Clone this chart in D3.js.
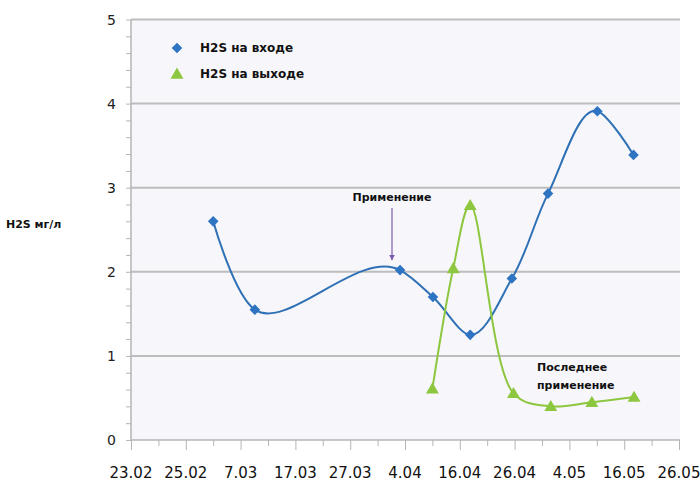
<!DOCTYPE html>
<html><head><meta charset="utf-8">
<script src="https://cdn.jsdelivr.net/npm/d3@7"></script>
<style>body{margin:0;background:#fff}svg{display:block}</style>
</head><body>
<svg id="c" width="700" height="495"></svg>
<script>
const xTickLabels = ["23.02","25.02","7.03","17.03","27.03","4.04","16.04","26.04","4.05","16.05","26.05"];
const yTicks = [0,1,2,3,4,5];
const inX = [1.50,2.26,4.91,5.51,6.19,6.95,7.61,8.51,9.17];
const inY = [2.60,1.55,2.02,1.70,1.25,1.92,2.93,3.91,3.39];
const outX = [5.50,5.88,6.19,6.98,7.66,8.41,9.18];
const outY = [0.61,2.04,2.79,0.555,0.40,0.45,0.51];
const seriesNames = ["H2S на входе","H2S на выходе"];
const yTitle = "H2S мг/л";
const note1 = "Применение";
const note2 = ["Последнее","применение"];

const svg = d3.select("#c");
const L=131,R=680,T=19.5,B=440;
const x = d3.scaleLinear().domain([0,10]).range([L,R-1]);
const y = d3.scaleLinear().domain([0,5]).range([B,T]);
const font = "DejaVu Sans, sans-serif";

svg.append("rect").attr("x",L).attr("y",T).attr("width",R-L).attr("height",B-T).attr("fill","#f7f7fb");
svg.append("g").selectAll("line").data(yTicks.filter(d=>d>0)).join("line")
  .attr("x1",L).attr("x2",R).attr("y1",d=>y(d)).attr("y2",d=>y(d))
  .attr("stroke","#bdbdbd").attr("stroke-width",2);

const yMinor = d3.range(0,5.0001,0.2);
const ya = svg.append("g").attr("transform",`translate(${L},0)`);
ya.call(d3.axisLeft(y).tickValues(yMinor).tickSize(5).tickFormat(""));
ya.select(".domain").attr("stroke","#b5b5b5").attr("stroke-width",1.5).attr("d",`M0,${B}V${T}`);
ya.selectAll(".tick line").attr("stroke","#b5b5b5");
svg.append("g").selectAll("text").data(yTicks).join("text")
  .attr("x",116).attr("y",d=>y(d)+5).attr("text-anchor","end")
  .attr("font-family",font).attr("font-size",14).attr("fill","#222").text(d=>d);

const xa = svg.append("g").attr("transform",`translate(0,${B})`);
xa.call(d3.axisBottom(x).tickValues(d3.range(0,10.001,0.5)).tickSize(6).tickFormat(""));
xa.selectAll(".tick line").attr("stroke","#b5b5b5").attr("y2",d=>Number.isInteger(d)?10:6);
xa.select(".domain").attr("stroke","#b5b5b5").attr("stroke-width",1.5).attr("d",`M${L},0H${R}`);
svg.append("g").selectAll("text").data(xTickLabels).join("text")
  .attr("x",(d,i)=>x(i)).attr("y",478).attr("text-anchor","middle")
  .attr("font-family",font).attr("font-size",15).attr("fill","#111").text(d=>d);

svg.append("text").attr("x",6).attr("y",228).attr("font-family",font).attr("font-weight","bold")
  .attr("font-size",11).attr("fill","#111").text(yTitle);

const blue="#2e74c2", blueLine="#2f70b5", green="#8dc63f";
const lineIn = d3.line().x(d=>x(d[0])).y(d=>y(d[1])).curve(d3.curveCatmullRom.alpha(1));
const lineOut = d3.line().x(d=>x(d[0])).y(d=>y(d[1])).curve(d3.curveCatmullRom.alpha(0.5));
const inData = inX.map((v,i)=>[v,inY[i]]);
const outData = outX.map((v,i)=>[v,outY[i]]);

svg.append("path").datum(inData).attr("d",lineIn).attr("fill","none").attr("stroke",blueLine).attr("stroke-width",2);
svg.append("path").datum(outData).attr("d",lineOut).attr("fill","none").attr("stroke",green).attr("stroke-width",2);

const sq = d3.symbol().type(d3.symbolSquare).size(56);
svg.append("g").selectAll("path").data(inData).join("path")
  .attr("d",sq).attr("transform",d=>`translate(${x(d[0])},${y(d[1])}) rotate(45)`)
  .attr("fill",blue);
const tri = d3.symbol().type(d3.symbolTriangle).size(72);
svg.append("g").selectAll("path").data(outData).join("path")
  .attr("transform",d=>`translate(${x(d[0])},${y(d[1])+1})`)
  .attr("d",tri).attr("fill",green);

const lg = svg.append("g");
lg.append("path").attr("d",sq).attr("transform","translate(177,48) rotate(45)").attr("fill",blue);
lg.append("path").attr("d",tri).attr("transform","translate(177,75)").attr("fill",green);
lg.selectAll("text").data(seriesNames).join("text")
  .attr("x",200).attr("y",(d,i)=>52+i*26).attr("font-family",font).attr("font-weight","bold")
  .attr("font-size",12).attr("fill","#111").text(d=>d);

svg.append("defs").append("marker").attr("id","ah").attr("viewBox","0 0 10 10").attr("refX",9).attr("refY",5)
  .attr("markerWidth",5).attr("markerHeight",5).attr("orient","auto")
  .append("path").attr("d","M0,0L10,5L0,10z").attr("fill","#7b5fae");
svg.append("text").attr("x",392).attr("y",201).attr("text-anchor","middle").attr("font-family",font)
  .attr("font-weight","bold").attr("font-size",11).attr("fill","#111").text(note1);
svg.append("line").attr("x1",392).attr("x2",392).attr("y1",208).attr("y2",260)
  .attr("stroke","#7b5fae").attr("stroke-width",1.2).attr("marker-end","url(#ah)");
svg.append("g").selectAll("text").data(note2).join("text")
  .attr("x",537).attr("y",(d,i)=>371+i*18).attr("font-family",font).attr("font-weight","bold")
  .attr("font-size",11).attr("fill","#111").text(d=>d);
</script>
</body></html>
